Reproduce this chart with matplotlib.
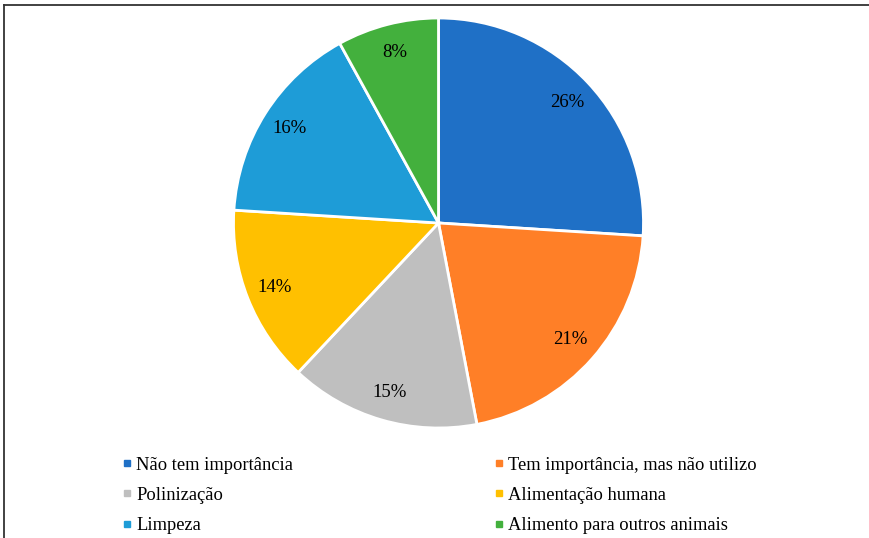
import matplotlib.pyplot as plt
from matplotlib.lines import Line2D

plt.rcParams['font.family'] = ['Liberation Serif', 'DejaVu Serif']

categories = [
    "Não tem importância",
    "Tem importância, mas não utilizo",
    "Polinização",
    "Alimentação humana",
    "Limpeza",
    "Alimento para outros animais",
]
shares = [26, 21, 15, 14, 16, 8]
colors = ["#1F70C6", "#FF7F27", "#BFBFBF", "#FFC000", "#1E9CD7", "#43B03D"]

fig = plt.figure(figsize=(8.7, 5.38), dpi=100)

# frame lines along the top and left edge
fig.add_artist(Line2D([4.5 / 870, 1], [1 - 4.5 / 538, 1 - 4.5 / 538],
                      color="#333333", lw=1.3, transform=fig.transFigure))
fig.add_artist(Line2D([4.5 / 870, 4.5 / 870], [0, 1 - 4.5 / 538],
                      color="#333333", lw=1.3, transform=fig.transFigure))

ax = fig.add_axes([233.5 / 870, 110 / 538, 410 / 870, 410 / 538])
wedges, texts, autotexts = ax.pie(
    shares, colors=colors, startangle=90, counterclock=False,
    autopct=lambda p: f"{p:.0f}%", pctdistance=0.86,
    wedgeprops=dict(edgecolor="white", linewidth=2),
    textprops=dict(fontsize=13.5, color="black"),
)
ax.set_xlim(-1, 1)
ax.set_ylim(-1, 1)
ax.set_aspect("equal")

# legend is read row by row, so reorder for matplotlib's column filling
order = [0, 2, 4, 1, 3, 5]
handles = [Line2D([], [], marker="s", linestyle="none", markersize=4.5,
                  color=colors[i]) for i in order]
labels = [categories[i] for i in order]
fig.legend(handles, labels, ncol=2, frameon=False, fontsize=13.3,
           loc="upper left", bbox_to_anchor=(105.5 / 870, 1 - 440 / 538),
           handlelength=0.5, handletextpad=0.25, columnspacing=10.9,
           labelspacing=0.72)

fig.savefig("out.png", dpi=100)
